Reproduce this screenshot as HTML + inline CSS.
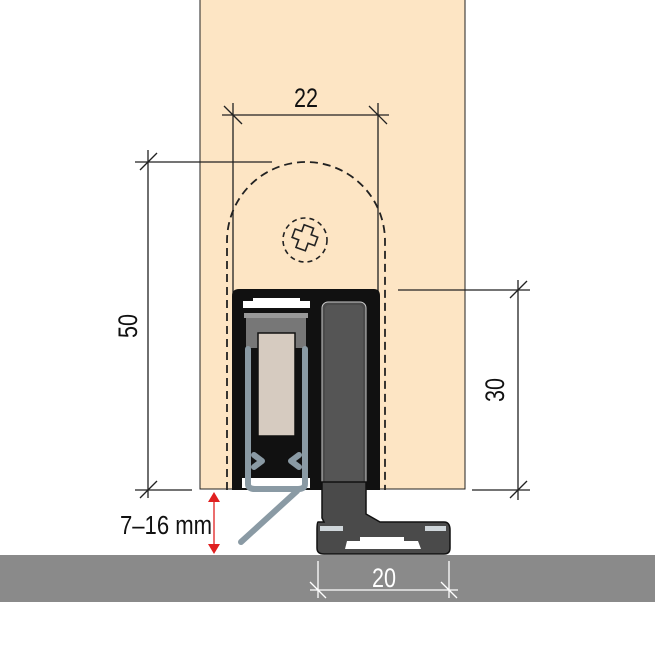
<!DOCTYPE html>
<html><head><style>
html,body{margin:0;padding:0;background:#fff}
svg{display:block}
text{font-family:"Liberation Sans",sans-serif}
</style></head><body>
<svg width="655" height="655" viewBox="0 0 655 655" xmlns="http://www.w3.org/2000/svg">
<rect x="0" y="0" width="655" height="655" fill="#fff"/>
<rect x="200" y="-2" width="265" height="491" fill="#fde5c4" stroke="#222" stroke-width="1"/>
<rect x="0" y="555" width="655" height="47" fill="#8a8a8a"/>
<path d="M227 490 L227 241 A79 79 0 0 1 385 241 L385 490" fill="none" stroke="#222" stroke-width="1.8" stroke-dasharray="8,5"/>
<circle cx="305" cy="240" r="22" fill="none" stroke="#222" stroke-width="1.6" stroke-dasharray="5,4"/>
<path d="M299 226 h10 v7 h7 v9 h-7 v8 h-10 v-8 h-7 v-9 h7 z" fill="none" stroke="#222" stroke-width="1.6" transform="rotate(20 305 240)"/>
<g stroke="#222" stroke-width="1.3" fill="none">
<line x1="233" y1="103" x2="233" y2="295"/>
<line x1="378" y1="103" x2="378" y2="295"/>
<line x1="222" y1="115" x2="389" y2="115"/>
<line x1="224" y1="106" x2="242" y2="124"/>
<line x1="369" y1="106" x2="387" y2="124"/>
<line x1="135" y1="162" x2="272" y2="162"/>
<line x1="148" y1="150" x2="148" y2="498"/>
<line x1="135" y1="490" x2="192" y2="490"/>
<line x1="140" y1="170" x2="157" y2="153"/>
<line x1="140" y1="498" x2="157" y2="481"/>
<line x1="398" y1="290" x2="530" y2="290"/>
<line x1="472" y1="490" x2="530" y2="490"/>
<line x1="518" y1="280" x2="518" y2="500"/>
<line x1="510" y1="298" x2="527" y2="281"/>
<line x1="510" y1="498" x2="527" y2="481"/>
</g>
<g stroke="#fff" stroke-width="1.3" fill="none">
<line x1="318" y1="561" x2="318" y2="598"/>
<line x1="449" y1="561" x2="449" y2="598"/>
<line x1="310" y1="590" x2="458" y2="590"/>
<line x1="310" y1="582" x2="326" y2="598"/>
<line x1="441" y1="582" x2="457" y2="598"/>
</g>
<text x="0" y="0" font-size="27" text-anchor="middle" fill="#111" transform="translate(306 107) scale(0.8 1)">22</text>
<text x="0" y="0" font-size="27" text-anchor="middle" fill="#111" transform="translate(137 326) rotate(-90) scale(0.8 1)">50</text>
<text x="0" y="0" font-size="27" text-anchor="middle" fill="#111" transform="translate(504 390) rotate(-90) scale(0.8 1)">30</text>
<text x="0" y="0" font-size="27" text-anchor="middle" fill="#fff" transform="translate(384 587) scale(0.8 1)">20</text>
<text x="0" y="0" font-size="26" fill="#111" transform="translate(120 534) scale(0.85 1)">7–16 mm</text>
<line x1="214" y1="498" x2="214" y2="548" stroke="#e02020" stroke-width="1.3"/>
<path d="M208 502 L214 492 L220 502 Z M208 544 L214 554 L220 544 Z" fill="#e02020"/>
<path d="M232 490 L232 296 Q232 289 239 289 L374 289 Q380 289 380 296 L380 490 Z" fill="#111"/>
<rect x="243" y="298" width="67" height="10" fill="#fff"/>
<rect x="243" y="298" width="10" height="3" fill="#111"/><rect x="300" y="298" width="10" height="3" fill="#111"/>
<rect x="244" y="313" width="64" height="5" fill="#999"/>
<rect x="246" y="318" width="60" height="30" fill="#777"/>
<rect x="258" y="333" width="37" height="103" fill="#d6cbc0" stroke="#111" stroke-width="1.5"/>
<rect x="242" y="478" width="68" height="10" fill="#fff"/>
<g fill="none" stroke="#8a9aa4" stroke-width="6" stroke-linejoin="round" stroke-linecap="round">
<path d="M248 349 L248 484 Q248 489 255 489 L298 489 Q305 489 305 484 L305 349"/>
<path d="M297 491 L241 542"/>
<path d="M254 455 L262 461 L254 467 M299 455 L291 461 L299 467"/>
</g>
<rect x="322" y="302" width="44" height="220" rx="6" fill="#4a4a4a" stroke="#ccc" stroke-width="1"/>
<rect x="325" y="305" width="38" height="180" rx="4" fill="#555"/>
<path d="M322 482 L322 518 L324 522 L318 522 Q317 522 317 530 L317 548 Q317 554 324 554 L444 554 Q450 554 450 548 L450 530 Q450 522 444 522 L380 522 L366 514 L366 482 Z" fill="#4a4a4a" stroke="#111" stroke-width="1.5"/>
<path d="M320 526 L343 526 L343 531 L320 531 Z M425 526 L446 526 L446 531 L425 531 Z" fill="#cfd6da"/>
<path d="M345 549 L347 541 L360 541 L360 537 L404 537 L404 541 L418 541 L421 549 Z" fill="#fff"/>
</svg>
</body></html>
